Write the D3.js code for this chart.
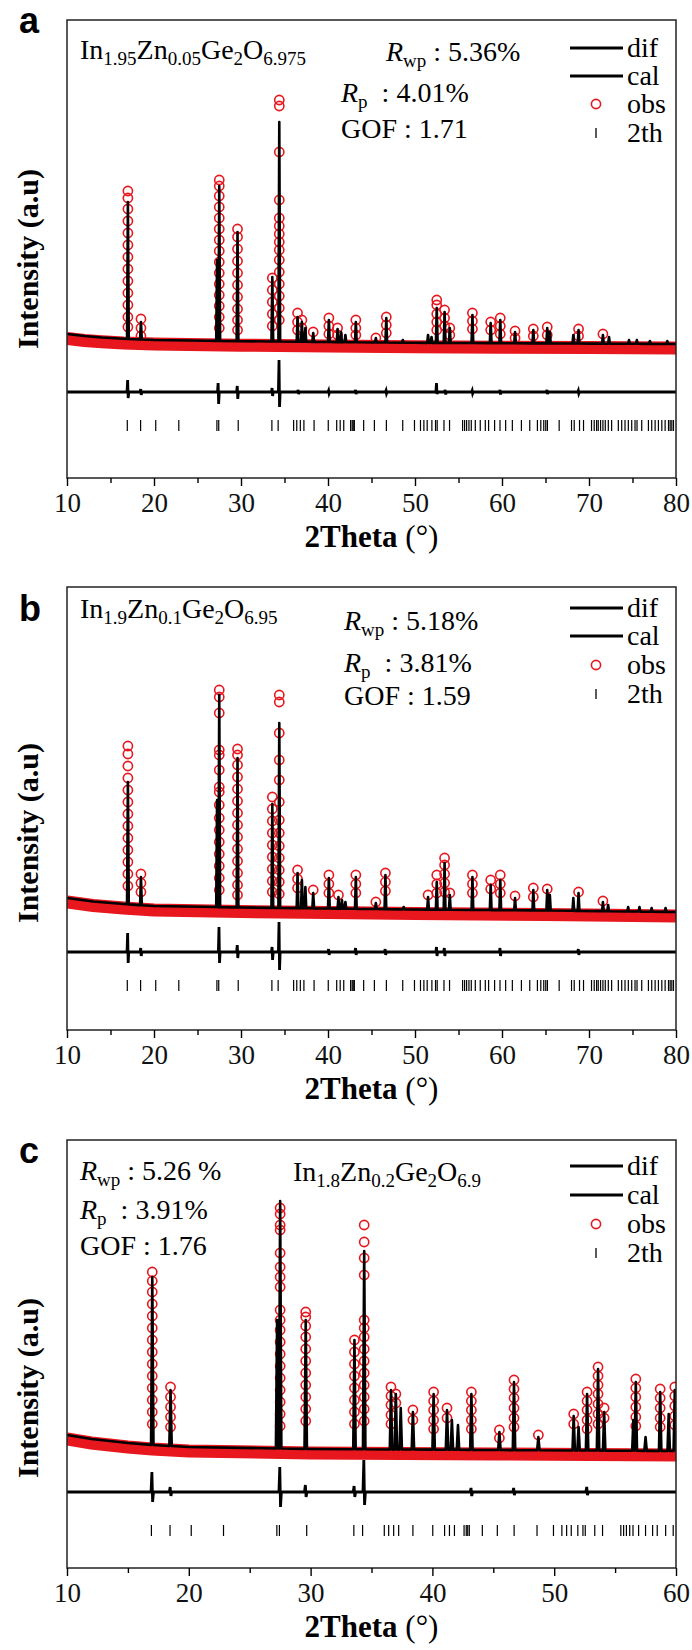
<!DOCTYPE html>
<html lang="en">
<head>
  <meta charset="UTF-8">
  <title>Rietveld refinement</title>
  <style>
    body { margin: 0; background: #fff; }
  </style>
</head>
<body>

  <svg id="svg" width="692" height="1650" style="font-family: 'Liberation Serif', 'Times New Roman', serif"></svg>

  <script src="https://d3js.org/d3.v7.min.js"></script>
  <script>
    // reflection positions (2theta), shared by all three samples
    const reflections = [16.93, 18.46, 20.2, 22.85, 27.23, 27.44, 29.68, 33.55, 34.27, 36.05, 36.41, 36.82, 37.23,
      38.4, 40.03, 41.0, 41.4, 41.81, 42.6, 42.78, 42.9, 43.03, 44.1, 45.33, 46.71, 48.59, 49.94, 50.63, 51.02,
      51.4, 51.94, 52.36, 52.55, 53.33, 53.97, 55.47, 55.7, 55.93, 56.2, 56.47, 56.93, 57.5, 58.08, 58.46, 59.15,
      59.77, 60.42, 61.19, 62.23, 63.19, 64.07, 64.46, 64.8, 65.03, 65.22, 66.57, 67.99, 68.3, 68.91, 69.37,
      70.29, 70.6, 70.87, 71.06, 71.33, 71.6, 71.87, 72.22, 72.6, 73.37, 73.76, 74.14, 74.52, 74.91, 75.29,
      75.52, 76.06, 76.83, 77.21, 77.6, 77.98, 78.37, 78.75, 79.14, 79.33, 79.52, 79.71]

    // ---- sample a : In1.95Zn0.05Ge2O6.975
    const bgA = [[10, 260], [12, 240], [14, 225], [16.5, 212], [20, 200], [26, 192], [30, 188], [40, 180],
      [50, 172], [60, 168], [70, 164], [80, 160]]
    const obsBgA = [[10, 215], [12, 195], [14, 182], [16.5, 170], [20, 160], [26, 152], [30, 148], [40, 140],
      [50, 132], [60, 128], [70, 124], [80, 120]]
    const calA = [[17.0, 1580], [18.5, 380], [27.25, 1000], [27.5, 1740], [29.6, 1280], [33.6, 830], [34.4, 2380],
      [36.5, 430], [37.0, 380], [37.4, 320], [38.3, 270], [40.1, 400], [41.1, 310], [41.5, 280], [42.0, 250],
      [43.2, 380], [45.5, 220], [46.7, 420], [48.6, 200], [51.5, 250], [51.9, 230], [52.5, 520], [53.4, 480],
      [54.0, 320], [56.6, 450], [58.7, 370], [59.8, 400], [61.5, 280], [63.6, 300], [65.2, 320], [65.5, 280],
      [68.2, 250], [68.8, 300], [71.6, 250], [72.3, 230], [74.6, 200], [75.5, 200], [77.0, 190], [79.0, 190]]
    const obsA = [
      [17.0, [1690, 1620, 1510, 1390, 1270, 1150, 1030, 910, 790, 670, 550, 430, 330]],
      [18.5, [410, 320, 240]],
      [27.5, [1800, 1740, 1640, 1530, 1420, 1310, 1200, 1090, 980, 870, 760, 650, 540, 430, 320]],
      [29.6, [1310, 1230, 1110, 990, 870, 750, 630, 510, 400, 300]],
      [33.6, [820, 700, 580, 460, 340]],
      [34.4, [2600, 2540, 2080, 1600, 1420, 1340, 1260, 1180, 1100, 1000, 880, 760, 640, 520, 400]],
      [36.5, [470, 380, 300]], [37.0, [400, 320]], [38.3, [280]], [40.1, [420, 340, 260]],
      [41.1, [320, 250]], [43.2, [400, 320, 250]], [45.5, [220]], [46.7, [430, 350, 270]],
      [52.5, [600, 550, 460, 380, 300]], [53.4, [500, 420, 340]], [54.0, [320, 250]],
      [56.6, [470, 390, 310]], [58.7, [380, 300]], [59.8, [420, 340, 260]], [61.5, [290, 220]],
      [63.6, [310, 240]], [65.2, [330, 250]], [68.8, [310, 240]], [71.6, [260]]
    ]
    const difA = [[17.0, -200, -380], [18.5, -290, -350], [27.4, -230, -440], [29.6, -260, -390],
      [33.6, -280, -360], [34.4, 0, -470], [36.6, -300, -340], [40.1, -305, -335], [43.2, -300, -340],
      [46.7, -305, -335], [52.5, -230, -340], [53.5, -300, -345], [56.6, -305, -335], [59.8, -300, -345],
      [65.2, -300, -340], [68.8, -305, -335]]

    // ---- sample b : In1.9Zn0.1Ge2O6.95
    const bgB = [[10, 320], [13, 285], [16.5, 260], [20, 240], [30, 225], [40, 215], [50, 205], [65, 195], [80, 180]]
    const obsBgB = [[10, 280], [13, 245], [16.5, 220], [20, 200], [30, 185], [40, 175], [50, 165], [65, 155], [80, 140]]
    const calB = [[17.0, 1480], [18.5, 530], [27.25, 1300], [27.5, 2350], [29.6, 1720], [33.6, 1260], [34.4, 2070],
      [36.5, 570], [37.0, 500], [37.4, 430], [38.3, 370], [40.1, 520], [41.2, 330], [41.6, 300], [42.0, 280],
      [43.2, 530], [45.5, 270], [46.6, 550], [48.7, 230], [51.5, 330], [52.5, 480], [53.4, 670], [54.0, 350],
      [56.6, 530], [58.7, 450], [59.8, 500], [61.5, 320], [63.6, 400], [65.2, 400], [65.5, 350], [68.2, 320],
      [68.8, 370], [71.6, 280], [72.2, 250], [74.5, 230], [75.8, 230], [77.2, 220], [78.8, 220]]
    const obsB = [
      [17.0, [1840, 1760, 1640, 1520, 1400, 1280, 1160, 1040, 920, 800, 680, 560, 440]],
      [18.5, [560, 470, 380]],
      [27.5, [2400, 2330, 2170, 1800, 1750, 1600, 1430, 1380, 1250, 1120, 1000, 880, 760, 640, 520, 400]],
      [29.6, [1810, 1750, 1650, 1530, 1410, 1290, 1170, 1050, 930, 810, 690, 570, 450, 350]],
      [33.6, [1330, 1210, 1090, 970, 850, 730, 610, 490, 380]],
      [34.4, [2350, 2280, 1970, 1700, 1500, 1280, 1100, 970, 840, 720, 600, 480, 360]],
      [36.5, [600, 510, 420]], [38.3, [400]], [40.1, [550, 460, 370]], [41.2, [350]],
      [43.2, [550, 460, 370]], [45.5, [280]], [46.6, [570, 480, 390]], [51.5, [350]],
      [52.5, [550, 460, 370]], [53.4, [720, 650, 560, 470, 380]], [54.0, [370]],
      [56.6, [550, 460, 370]], [58.7, [500, 410]], [59.8, [550, 460, 370]], [61.5, [340]],
      [63.6, [420, 330]], [65.2, [410]], [68.8, [380]], [71.6, [290]]
    ]
    const difB = [[17.0, -30, -330], [18.5, -180, -260], [27.5, 30, -330], [29.6, -150, -280], [33.6, -170, -300],
      [34.4, 80, -400], [40.1, -190, -250], [43.2, -180, -250], [46.6, -190, -250], [52.5, -170, -260],
      [53.4, -180, -260], [59.8, -180, -260], [68.8, -190, -250]]

    // ---- sample c : In1.8Zn0.2Ge2O6.9
    const bgC = [[10, 350], [12, 310], [15, 270], [17, 250], [20, 230], [30, 210], [45, 200], [60, 190]]
    const obsBgC = [[10, 310], [12, 270], [15, 230], [17, 210], [20, 190], [30, 170], [45, 160], [60, 150]]
    const calC = [[17.0, 1930], [18.5, 800], [27.25, 1500], [27.5, 2690], [29.6, 1500], [33.6, 1300], [34.4, 2190],
      [36.6, 800], [37.0, 760], [37.4, 620], [38.4, 580], [40.1, 760], [41.2, 600], [41.6, 500], [42.1, 450],
      [43.2, 760], [45.5, 380], [46.7, 880], [48.7, 330], [51.6, 540], [52.0, 430], [52.7, 760], [53.6, 1010],
      [54.1, 580], [56.5, 500], [56.7, 880], [57.5, 330], [58.7, 780], [59.4, 560], [59.9, 800]]
    const obsC = [
      [17.0, [1980, 1890, 1780, 1660, 1540, 1420, 1300, 1180, 1060, 940, 820, 700, 580, 460]],
      [18.5, [830, 730, 630, 530, 430]],
      [27.5, [2620, 2560, 2450, 2400, 2170, 2030, 1930, 1830, 1600, 1500, 1400, 1280, 1160, 1040, 920, 800, 680, 560, 440]],
      [29.6, [1580, 1530, 1440, 1330, 1210, 1090, 970, 850, 730, 610, 490]],
      [33.6, [1300, 1180, 1060, 940, 820, 700, 580, 460]],
      [34.4, [2450, 2280, 2120, 1950, 1500, 1420, 1330, 1210, 1090, 970, 850, 730, 610, 490]],
      [36.6, [830, 740, 650, 550, 460]], [37.0, [760, 670]], [38.4, [600, 500]], [40.1, [780, 690, 600, 500, 410]],
      [41.2, [620, 520]], [43.2, [780, 690, 600, 500, 410]], [45.5, [400, 320]], [46.7, [900, 810, 720, 620, 520, 430]],
      [48.7, [350]], [51.6, [560, 460]], [52.7, [780, 690, 600, 500, 410]], [53.6, [1030, 940, 850, 760, 660, 560, 460]],
      [54.1, [620, 520]], [56.7, [910, 820, 730, 630, 530, 440]], [58.7, [810, 720, 620, 520, 430]],
      [59.9, [830, 740, 640, 540, 450]]
    ]
    const difC = [[17.0, -20, -320], [18.5, -170, -260], [27.5, 30, -370], [29.6, -150, -270], [33.6, -160, -270],
      [34.4, 100, -350], [43.2, -180, -260], [46.7, -180, -250], [52.7, -170, -250]]

    const xTicks80 = [10, 20, 30, 40, 50, 60, 70, 80]
    const xTicks60 = [10, 20, 30, 40, 50, 60]

    const panels = [
      { letter: 'a', top: 20, bottom: 478, xmax: 80, yDomain: [-1180, 3400], ticks: xTicks80,
        bg: bgA, obsBg: obsBgA, cal: calA, obs: obsA, dif: difA, difBase: -320, reflY: [-600, -710],
        formula: [['In', 0], ['1.95', 1], ['Zn', 0], ['0.05', 1], ['Ge', 0], ['2', 1], ['O', 0], ['6.975', 1]],
        formulaPos: [80, 59], letterY: 33,
        stats: [['wp', ' : 5.36%', 386, 61], ['p', '  : 4.01%', 341, 102], [null, 'GOF : 1.71', 341, 138]],
        legendY: [48, 76, 104, 133], labelY: 259 },
      { letter: 'b', top: 587, bottom: 1030, xmax: 80, yDomain: [-1000, 3430], ticks: xTicks80,
        bg: bgB, obsBg: obsBgB, cal: calB, obs: obsB, dif: difB, difBase: -220, reflY: [-500, -610],
        formula: [['In', 0], ['1.9', 1], ['Zn', 0], ['0.1', 1], ['Ge', 0], ['2', 1], ['O', 0], ['6.95', 1]],
        formulaPos: [80, 618], letterY: 621,
        stats: [['wp', ' : 5.18%', 344, 630], ['p', '  : 3.81%', 344, 672], [null, 'GOF : 1.59', 344, 705]],
        legendY: [608, 636, 665, 694], labelY: 833 },
      { letter: 'c', top: 1140, bottom: 1568, xmax: 60, yDomain: [-980, 3300], ticks: xTicks60,
        bg: bgC, obsBg: obsBgC, cal: calC, obs: obsC, dif: difC, difBase: -220, reflY: [-550, -660],
        formula: [['In', 0], ['1.8', 1], ['Zn', 0], ['0.2', 1], ['Ge', 0], ['2', 1], ['O', 0], ['6.9', 1]],
        formulaPos: [293, 1181], letterY: 1163,
        stats: [['wp', ' : 5.26 %', 80, 1180], ['p', '  : 3.91%', 80, 1219], [null, 'GOF : 1.76', 80, 1255]],
        legendY: [1166, 1195, 1224, 1253], labelY: 1388 }
    ]

    const RED = '#e8161d'
    const SERIF = '"Liberation Serif", "Times New Roman", serif'
    const SANS = '"Liberation Sans", Arial, sans-serif'
    const left = 67, right = 676
    const svg = d3.select('#svg')

    panels.forEach((p, i) => {
      const x = d3.scaleLinear().domain([10, p.xmax]).range([left, right])
      const y = d3.scaleLinear().domain(p.yDomain).range([p.bottom, p.top])
      const bgScale = d3.scaleLinear().domain(p.bg.map(d => d[0])).range(p.bg.map(d => d[1]))
      const line = d3.line().x(d => x(d[0])).y(d => y(d[1]))

      const g = svg.append('g')
      g.append('clipPath').attr('id', 'clip' + i)
        .append('rect').attr('x', left).attr('y', p.top).attr('width', right - left).attr('height', p.bottom - p.top)
      const plot = g.append('g').attr('clip-path', `url(#clip${i})`)

      // observed points: dense background band + circles on peaks
      plot.append('path').datum(p.obsBg).attr('d', line)
        .attr('fill', 'none').attr('stroke', RED).attr('stroke-width', 13)
      p.obs.forEach(([pos, hs]) => {
        plot.selectAll(null).data(hs).enter().append('circle')
          .attr('cx', x(pos)).attr('cy', h => y(h)).attr('r', 4.6)
          .attr('fill', 'none').attr('stroke', RED).attr('stroke-width', 1.6)
      })

      // calculated profile
      const w = 0.1
      const verts = p.bg.filter(b => !p.cal.some(c => Math.abs(c[0] - b[0]) < 0.2)).slice()
      p.cal.forEach(([pos, top]) => {
        verts.push([pos - w, bgScale(pos - w)], [pos, top], [pos + w, bgScale(pos + w)])
      })
      verts.sort((a, b) => a[0] - b[0])
      plot.append('path').datum(verts).attr('d', line)
        .attr('fill', 'none').attr('stroke', '#000').attr('stroke-width', 2.6).attr('stroke-linejoin', 'round')

      // difference curve
      const dverts = [[10, p.difBase], [p.xmax, p.difBase]]
      p.dif.forEach(([pos, up, dn]) => {
        dverts.push([pos - 0.1, p.difBase], [pos - 0.03, up], [pos + 0.03, dn], [pos + 0.1, p.difBase])
      })
      dverts.sort((a, b) => a[0] - b[0])
      plot.append('path').datum(dverts).attr('d', line)
        .attr('fill', 'none').attr('stroke', '#000').attr('stroke-width', 2.8)

      // reflection markers
      plot.selectAll(null).data(reflections.filter(r => r <= p.xmax)).enter().append('line')
        .attr('x1', d => x(d)).attr('x2', d => x(d))
        .attr('y1', y(p.reflY[0])).attr('y2', y(p.reflY[1]))
        .attr('stroke', '#000').attr('stroke-width', 1.2)

      // frame
      g.append('rect').attr('x', left).attr('y', p.top).attr('width', right - left).attr('height', p.bottom - p.top)
        .attr('fill', 'none').attr('stroke', '#222').attr('stroke-width', 1.5)

      // x axis
      const minor = d3.range(15, p.xmax, 10)
      g.append('g').attr('transform', `translate(0,${p.bottom})`)
        .call(d3.axisBottom(x).tickValues(minor).tickSize(5).tickFormat(''))
        .call(a => a.select('.domain').remove())
        .selectAll('line').attr('stroke-width', 1.4)
      const ax = g.append('g').attr('transform', `translate(0,${p.bottom})`)
        .call(d3.axisBottom(x).tickValues(p.ticks).tickSize(8).tickPadding(7).tickFormat(d3.format('d')))
      ax.select('.domain').remove()
      ax.selectAll('line').attr('stroke-width', 1.4)
      ax.selectAll('text').attr('font-size', 27).style('font-family', SERIF).attr('fill', '#111')

      const xt = g.append('text').attr('x', (left + right) / 2).attr('y', p.bottom + 69)
        .attr('text-anchor', 'middle').attr('font-size', 31).style('font-family', SERIF)
      xt.append('tspan').attr('font-weight', 'bold').text('2Theta')
      xt.append('tspan').text(' (°)')

      g.append('text').attr('transform', `translate(38,${p.labelY}) rotate(-90)`)
        .attr('text-anchor', 'middle').attr('font-size', 30).attr('font-weight', 'bold')
        .style('font-family', SERIF).text('Intensity (a.u)')

      // panel letter
      g.append('text').attr('x', 19).attr('y', p.letterY)
        .style('font-family', SANS).attr('font-weight', 'bold')
        .attr('font-size', 36).text(p.letter)

      // formula
      const ft = g.append('text').attr('x', p.formulaPos[0]).attr('y', p.formulaPos[1])
        .attr('font-size', 28).style('font-family', SERIF)
      let sub = false
      p.formula.forEach(([t, s]) => {
        const dy = s && !sub ? 6 : (!s && sub ? -6 : 0)
        ft.append('tspan').attr('dy', dy).attr('font-size', s ? 19 : 28).text(t)
        sub = !!s
      })

      // statistics
      p.stats.forEach(([subTxt, txt, sx, sy]) => {
        const t = g.append('text').attr('x', sx).attr('y', sy).attr('font-size', 28)
          .style('font-family', SERIF).style('white-space', 'pre')
        if (subTxt) {
          t.append('tspan').attr('font-style', 'italic').text('R')
          t.append('tspan').attr('dy', 6).attr('font-size', 19).text(subTxt)
          t.append('tspan').attr('dy', -6).text(txt)
        } else {
          t.text(txt)
        }
      })

      // legend
      const [ld, lc, lo, lt] = p.legendY
      ;[ld, lc].forEach(ly => g.append('line').attr('x1', 570).attr('x2', 623).attr('y1', ly).attr('y2', ly)
        .attr('stroke', '#000').attr('stroke-width', 3))
      g.append('circle').attr('cx', 596).attr('cy', lo).attr('r', 4.6)
        .attr('fill', 'none').attr('stroke', RED).attr('stroke-width', 1.6)
      g.append('line').attr('x1', 596).attr('x2', 596).attr('y1', lt - 5).attr('y2', lt + 5)
        .attr('stroke', '#000').attr('stroke-width', 1.3)
      ;['dif', 'cal', 'obs', '2th'].forEach((name, k) => {
        g.append('text').attr('x', 627).attr('y', p.legendY[k] + 9).attr('font-size', 28)
          .style('font-family', SERIF).text(name)
      })
    })
  </script>
</body>
</html>
